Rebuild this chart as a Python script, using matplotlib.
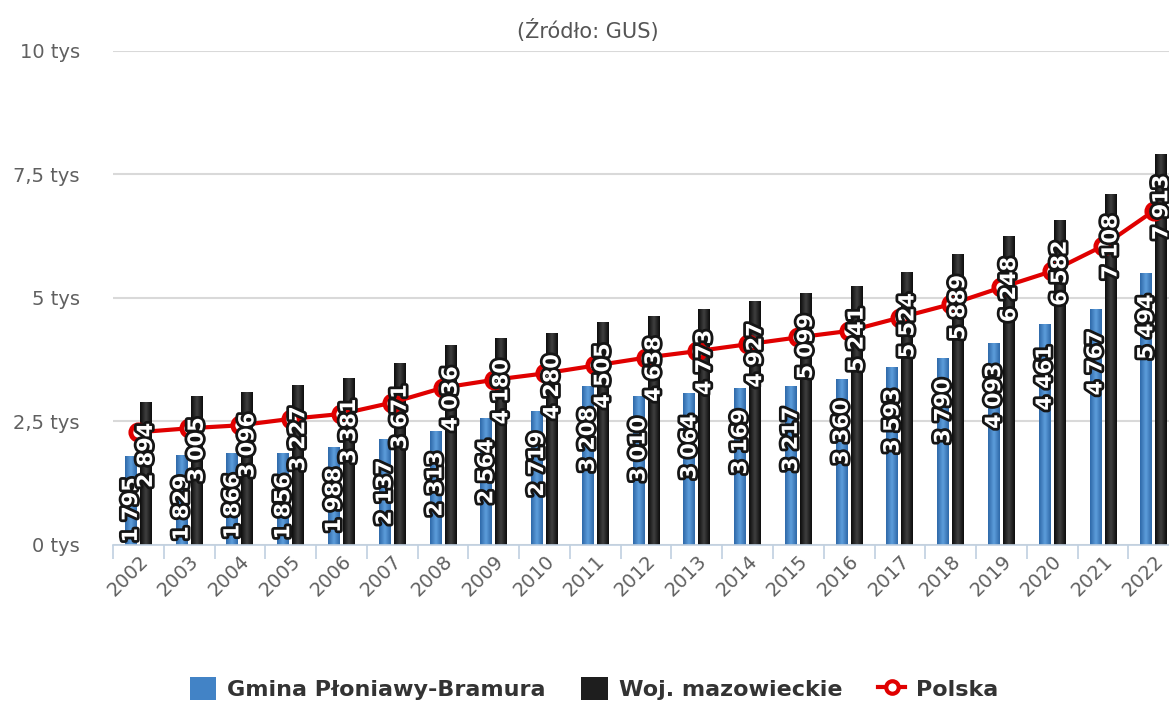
import matplotlib
matplotlib.use("Agg")
import matplotlib.pyplot as plt
import matplotlib.patheffects as pe
from matplotlib.colors import LinearSegmentedColormap
from matplotlib.lines import Line2D
from matplotlib.patches import Patch
import numpy as np

years = ['2002', '2003', '2004', '2005', '2006', '2007', '2008', '2009', '2010', '2011', '2012',
         '2013', '2014', '2015', '2016', '2017', '2018', '2019', '2020', '2021', '2022']
gmina = [1795, 1829, 1866, 1856, 1988, 2137, 2313, 2564, 2719, 3208, 3010,
         3064, 3169, 3217, 3360, 3593, 3790, 4093, 4461, 4767, 5494]
woj = [2894, 3005, 3096, 3227, 3381, 3671, 4036, 4180, 4280, 4505, 4638,
       4773, 4927, 5099, 5241, 5524, 5889, 6248, 6582, 7108, 7913]
polska = [2280, 2360, 2420, 2550, 2650, 2880, 3180, 3340, 3470, 3630, 3790,
          3920, 4060, 4200, 4330, 4600, 4870, 5210, 5540, 6050, 6760]
yticks = [0, 2500, 5000, 7500, 10000]
ylabels = ['0 tys', '2,5 tys', '5 tys', '7,5 tys', '10 tys']

fig = plt.figure(figsize=(11.69, 7.04), dpi=100)
ax = fig.add_axes([0.0967, 0.226, 0.912, 0.702])

x = np.arange(len(years))
w = 0.236
off = 0.148

b1 = ax.bar(x - off, gmina, width=w, color='#4283c6', zorder=2)
b2 = ax.bar(x + off, woj, width=w, color='#1e1e1e', zorder=2)


def shade(bars, dark, light):
    # horizontal gradient across each bar, like the original
    cmap = LinearSegmentedColormap.from_list('g', [dark, light, dark])
    grad = np.linspace(0, 1, 40).reshape(1, -1)
    for b in bars:
        x0, y0 = b.get_xy()
        im = ax.imshow(grad, cmap=cmap, extent=(x0, x0 + b.get_width(), y0, y0 + b.get_height()),
                       aspect='auto', zorder=2.1, interpolation='bicubic')
        im.set_clip_path(b)


shade(b1, '#2e68a8', '#5e9edc')
shade(b2, '#0c0c0c', '#404040')

ax.plot(x, polska, color='#e00000', lw=3, marker='o', ms=11, mfc='white', mec='#e00000',
        mew=3.5, zorder=4)

fx = [pe.withStroke(linewidth=4, foreground='#151515')]
for xs, vals in ((x - off, gmina), (x + off, woj)):
    for xi, v in zip(xs, vals):
        ax.annotate(f"{v:,}".replace(',', ' '), (xi, v), xytext=(0, -15), textcoords='offset points',
                    rotation=90, ha='center', va='top', fontsize=15, fontweight='bold',
                    color='white', path_effects=fx, zorder=6, annotation_clip=False)

ax.set_xlim(-0.5, len(years) - 0.5)
ax.set_ylim(0, 10000)
ax.set_yticks(yticks)
ax.set_yticklabels(ylabels, fontsize=14, color='#606060')
ax.set_xticks(x)
ax.set_xticklabels(years, rotation=45, ha='right', rotation_mode='anchor', fontsize=14, color='#606060')
ax.tick_params(axis='y', length=0, pad=24)
ax.tick_params(axis='x', length=0, pad=5)
ax.set_xticks(np.arange(len(years) + 1) - 0.5, minor=True)
ax.tick_params(axis='x', which='minor', length=10, color='#c0d0e0', width=1.2)

ax.grid(axis='y', color='#d9d9d9', lw=1.5, zorder=0)
ax.set_axisbelow(True)
for s in ['top', 'right', 'left']:
    ax.spines[s].set_visible(False)
ax.spines['bottom'].set_color('#c0d0e0')
ax.spines['bottom'].set_linewidth(1.2)

fig.text(0.503, 0.957, '(Źródło: GUS)', ha='center', va='center', fontsize=15, color='#555555')

handles = [Patch(facecolor='#4283c6', edgecolor='none'),
           Patch(facecolor='#1e1e1e', edgecolor='none'),
           Line2D([], [], color='#e00000', lw=3, marker='o', ms=9, mfc='white', mec='#e00000', mew=3)]
fig.legend(handles, ['Gmina Płoniawy-Bramura', 'Woj. mazowieckie', 'Polska'], loc='center',
           bbox_to_anchor=(0.508, 0.022), ncol=3, frameon=False, handlelength=1.2, handleheight=1.2,
           columnspacing=1.6, handletextpad=0.5, prop={'weight': 'bold', 'size': 16}, labelcolor='#333333')

fig.savefig('out.png', dpi=100)
